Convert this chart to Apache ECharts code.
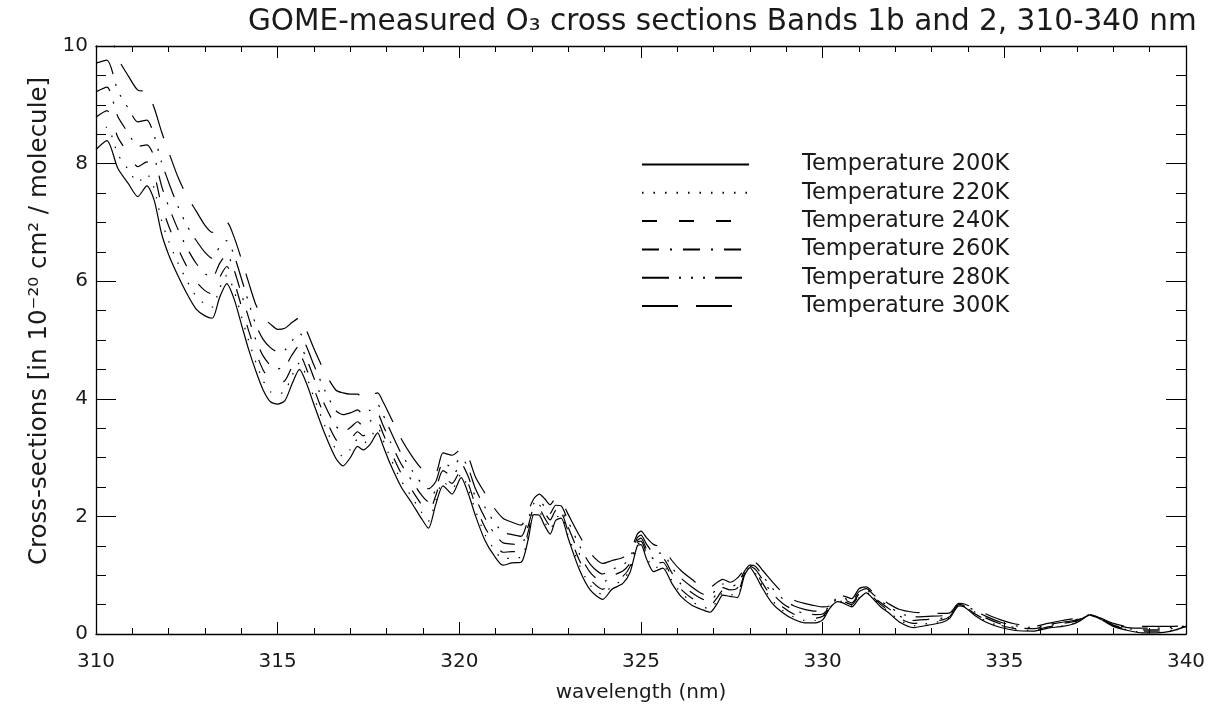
<!DOCTYPE html>
<html><head><meta charset="utf-8">
<script src="https://cdn.jsdelivr.net/npm/echarts@6/dist/echarts.min.js"></script>
<style>html,body{margin:0;padding:0;background:#fff}#c{width:1212px;height:710px}</style>
</head><body><div id="c"></div>
<script>
// wavelength grid (nm)
const wavelength = [
310.0, 310.3, 310.6, 310.9, 311.15, 311.4, 311.6, 311.8, 312.0, 312.25,
312.5, 312.75, 313.0, 313.2, 313.4, 313.6, 313.8, 314.0, 314.2, 314.4,
314.6, 314.8, 315.0, 315.2, 315.4, 315.6, 315.8, 316.0, 316.3, 316.6,
316.8, 317.0, 317.2, 317.35, 317.55, 317.75, 317.9, 318.1, 318.4, 318.7,
318.95, 319.15, 319.35, 319.55, 319.8, 320.05, 320.25, 320.45, 320.7, 320.95,
321.2, 321.45, 321.7, 321.9, 322.05, 322.2, 322.35, 322.5, 322.65, 322.8,
323.0, 323.3, 323.6, 323.95, 324.2, 324.5, 324.7, 324.9, 325.0, 325.15,
325.35, 325.6, 325.85, 326.1, 326.4, 326.7, 326.9, 327.1, 327.25, 327.45,
327.65, 327.85, 328.0, 328.15, 328.35, 328.6, 328.9, 329.2, 329.5, 329.8,
330.0, 330.2, 330.4, 330.55, 330.8, 331.0, 331.2, 331.4, 331.6, 331.8,
332.1, 332.5, 332.9, 333.3, 333.5, 333.75, 333.9, 334.2, 334.5, 334.9,
335.3, 335.8, 336.2, 336.6, 336.9, 337.1, 337.35, 337.65, 338.0, 338.4,
338.8, 339.2, 339.6, 340.0];

const t200 = [
8.24, 8.39, 7.92, 7.65, 7.44, 7.62, 7.38, 6.82, 6.45, 6.10,
5.79, 5.53, 5.41, 5.37, 5.72, 5.96, 5.70, 5.27, 4.84, 4.47,
4.15, 3.95, 3.91, 3.97, 4.26, 4.50, 4.25, 3.90, 3.40, 2.99,
2.86, 3.00, 3.19, 3.13, 3.23, 3.42, 3.20, 2.89, 2.50, 2.22,
1.97, 1.80, 2.20, 2.52, 2.38, 2.66, 2.38, 2.00, 1.60, 1.34,
1.17, 1.21, 1.22, 1.62, 2.03, 2.02, 1.84, 1.70, 1.93, 1.97,
1.62, 1.10, 0.75, 0.59, 0.76, 0.86, 1.05, 1.50, 1.52, 1.28,
1.06, 1.12, 0.86, 0.64, 0.49, 0.41, 0.37, 0.52, 0.66, 0.64,
0.62, 1.00, 1.13, 1.00, 0.77, 0.53, 0.36, 0.25, 0.19, 0.19,
0.24, 0.44, 0.55, 0.53, 0.46, 0.60, 0.70, 0.59, 0.46, 0.37,
0.21, 0.11, 0.15, 0.20, 0.27, 0.48, 0.46, 0.31, 0.20, 0.11,
0.06, 0.05, 0.10, 0.13, 0.17, 0.23, 0.32, 0.25, 0.13, 0.06,
0.02, 0.02, 0.05, 0.13];

const t220 = [
8.50, 8.62, 8.16, 7.89, 7.68, 7.82, 7.58, 7.04, 6.68, 6.32,
6.01, 5.75, 5.61, 5.56, 5.88, 6.10, 5.84, 5.41, 4.99, 4.62,
4.31, 4.12, 4.08, 4.13, 4.40, 4.61, 4.37, 4.02, 3.54, 3.14,
3.02, 3.14, 3.31, 3.24, 3.34, 3.51, 3.30, 3.00, 2.61, 2.32,
2.08, 1.92, 2.27, 2.59, 2.47, 2.72, 2.46, 2.09, 1.70, 1.45,
1.27, 1.30, 1.30, 1.68, 2.07, 2.07, 1.90, 1.77, 1.98, 2.01,
1.67, 1.18, 0.83, 0.67, 0.82, 0.92, 1.10, 1.53, 1.55, 1.33,
1.12, 1.17, 0.91, 0.70, 0.55, 0.46, 0.43, 0.57, 0.70, 0.67,
0.66, 1.01, 1.14, 1.03, 0.81, 0.58, 0.40, 0.29, 0.23, 0.23,
0.27, 0.45, 0.56, 0.55, 0.48, 0.62, 0.71, 0.60, 0.48, 0.39,
0.24, 0.14, 0.18, 0.22, 0.28, 0.49, 0.47, 0.33, 0.22, 0.13,
0.07, 0.06, 0.11, 0.14, 0.18, 0.24, 0.32, 0.25, 0.14, 0.07,
0.03, 0.03, 0.06, 0.13];

const t240 = [
8.79, 8.90, 8.45, 8.16, 7.95, 8.03, 7.82, 7.30, 6.94, 6.57,
6.25, 6.00, 5.84, 5.78, 6.06, 6.25, 5.99, 5.58, 5.16, 4.79,
4.49, 4.32, 4.27, 4.31, 4.55, 4.75, 4.50, 4.17, 3.69, 3.31,
3.21, 3.30, 3.44, 3.37, 3.46, 3.61, 3.41, 3.12, 2.73, 2.44,
2.21, 2.07, 2.35, 2.68, 2.56, 2.79, 2.55, 2.18, 1.82, 1.57,
1.39, 1.40, 1.40, 1.75, 2.11, 2.12, 1.97, 1.84, 2.03, 2.05,
1.73, 1.26, 0.93, 0.76, 0.90, 0.98, 1.15, 1.56, 1.58, 1.38,
1.19, 1.22, 0.97, 0.76, 0.61, 0.52, 0.49, 0.62, 0.74, 0.71,
0.71, 1.03, 1.14, 1.06, 0.86, 0.63, 0.46, 0.34, 0.28, 0.27,
0.30, 0.45, 0.57, 0.56, 0.50, 0.65, 0.73, 0.62, 0.50, 0.41,
0.27, 0.18, 0.21, 0.24, 0.30, 0.49, 0.47, 0.34, 0.24, 0.15,
0.09, 0.07, 0.12, 0.16, 0.20, 0.25, 0.32, 0.26, 0.14, 0.08,
0.05, 0.05, 0.07, 0.13];

const t260 = [
9.22, 9.30, 8.80, 8.51, 8.29, 8.32, 8.12, 7.63, 7.27, 6.89,
6.57, 6.31, 6.13, 6.06, 6.30, 6.45, 6.19, 5.79, 5.38, 5.00,
4.73, 4.57, 4.51, 4.55, 4.75, 4.91, 4.67, 4.35, 3.89, 3.54,
3.44, 3.51, 3.61, 3.54, 3.62, 3.74, 3.55, 3.27, 2.89, 2.60,
2.37, 2.25, 2.46, 2.78, 2.69, 2.89, 2.67, 2.31, 1.98, 1.72,
1.55, 1.53, 1.52, 1.85, 2.16, 2.19, 2.06, 1.94, 2.10, 2.11,
1.81, 1.37, 1.05, 0.88, 0.99, 1.07, 1.21, 1.59, 1.63, 1.45,
1.28, 1.28, 1.04, 0.85, 0.70, 0.59, 0.57, 0.69, 0.79, 0.75,
0.78, 1.05, 1.15, 1.10, 0.92, 0.70, 0.52, 0.41, 0.35, 0.33,
0.34, 0.46, 0.59, 0.59, 0.53, 0.68, 0.75, 0.64, 0.53, 0.44,
0.31, 0.23, 0.25, 0.27, 0.31, 0.50, 0.48, 0.37, 0.27, 0.17,
0.11, 0.09, 0.14, 0.18, 0.21, 0.26, 0.32, 0.26, 0.15, 0.09,
0.07, 0.07, 0.09, 0.13];

const t280 = [
9.71, 9.76, 9.24, 8.93, 8.71, 8.74, 8.48, 8.03, 7.68, 7.28,
6.95, 6.70, 6.49, 6.39, 6.58, 6.69, 6.44, 6.05, 5.64, 5.26,
5.01, 4.87, 4.80, 4.83, 4.99, 5.12, 4.88, 4.57, 4.14, 3.80,
3.73, 3.76, 3.81, 3.74, 3.81, 3.90, 3.73, 3.46, 3.07, 2.78,
2.57, 2.47, 2.59, 2.91, 2.84, 3.00, 2.81, 2.46, 2.16, 1.91,
1.73, 1.69, 1.66, 1.96, 2.22, 2.27, 2.16, 2.05, 2.19, 2.18,
1.91, 1.51, 1.19, 1.02, 1.10, 1.17, 1.30, 1.64, 1.68, 1.53,
1.38, 1.37, 1.13, 0.95, 0.80, 0.68, 0.67, 0.77, 0.85, 0.81,
0.85, 1.07, 1.17, 1.15, 0.99, 0.79, 0.60, 0.48, 0.42, 0.39,
0.39, 0.47, 0.61, 0.61, 0.56, 0.72, 0.77, 0.67, 0.56, 0.48,
0.36, 0.29, 0.30, 0.31, 0.33, 0.51, 0.50, 0.39, 0.30, 0.20,
0.14, 0.11, 0.16, 0.20, 0.23, 0.27, 0.33, 0.26, 0.17, 0.11,
0.10, 0.10, 0.11, 0.14];

const t300 = [
10.25, 10.35, 9.80, 9.48, 9.25, 9.22, 8.95, 8.55, 8.20, 7.78,
7.45, 7.20, 6.95, 6.83, 6.95, 7.00, 6.75, 6.38, 5.98, 5.60,
5.38, 5.27, 5.18, 5.20, 5.30, 5.38, 5.15, 4.85, 4.45, 4.15,
4.10, 4.08, 4.08, 4.00, 4.06, 4.10, 3.95, 3.70, 3.32, 3.02,
2.82, 2.75, 2.75, 3.08, 3.04, 3.14, 3.00, 2.66, 2.40, 2.15,
1.97, 1.90, 1.85, 2.10, 2.30, 2.38, 2.30, 2.20, 2.30, 2.27,
2.03, 1.68, 1.38, 1.20, 1.25, 1.30, 1.40, 1.70, 1.75, 1.64,
1.52, 1.47, 1.25, 1.08, 0.93, 0.80, 0.80, 0.88, 0.93, 0.88,
0.95, 1.10, 1.18, 1.21, 1.08, 0.90, 0.70, 0.58, 0.52, 0.48,
0.46, 0.48, 0.63, 0.65, 0.60, 0.77, 0.80, 0.70, 0.60, 0.52,
0.42, 0.37, 0.36, 0.35, 0.36, 0.52, 0.51, 0.43, 0.34, 0.24,
0.17, 0.13, 0.18, 0.23, 0.26, 0.29, 0.33, 0.27, 0.18, 0.13,
0.13, 0.13, 0.13, 0.14];

const seriesNames = ['Temperature 200K','Temperature 220K','Temperature 240K','Temperature 260K','Temperature 280K','Temperature 300K'];
const seriesValues = [t200, t220, t240, t260, t280, t300];

const titleText = 'GOME-measured O\u2083 cross sections Bands 1b and 2, 310-340 nm';
const xName = 'wavelength (nm)';
const yName = 'Cross-sections [in 10\u207B\u00B2\u2070 cm\u00B2 / molecule]';

// styles
const dashTypes = ['solid', [1.5, 10], [15, 22], [17, 11, 2, 11], [27, 10, 2, 10, 2, 10, 2, 10], [36, 18]];
const FONT = 'DejaVu Sans';
const INK = '#1a1a1a';

const chart = echarts.init(document.getElementById('c'), null, {renderer: 'canvas'});

function xAx(pos, withLabels) {
  return {
    type: 'value', position: pos, min: 310, max: 340, interval: 5,
    name: withLabels ? xName : '', nameLocation: 'middle', nameGap: 49,
    nameTextStyle: {fontFamily: FONT, fontSize: 20, color: INK},
    axisLine: {onZero: false, lineStyle: {color: '#000', width: 1.3}},
    axisTick: {inside: true, length: 12, lineStyle: {color: '#000', width: 1}},
    minorTick: {show: true, splitNumber: 5, length: 6, lineStyle: {color: '#000', width: 1}},
    axisLabel: {show: withLabels, fontFamily: FONT, fontSize: 20, color: INK, margin: 18},
    splitLine: {show: false}
  };
}
function yAx(pos, withLabels) {
  return {
    type: 'value', position: pos, min: 0, max: 10, interval: 2,
    name: withLabels ? yName : '', nameLocation: 'middle', nameGap: 44, nameRotate: 90,
    nameTextStyle: {fontFamily: FONT, fontSize: 24.5, color: INK, padding: [0, 0, 0, 38]},
    axisLine: {onZero: false, lineStyle: {color: '#000', width: 1.3}},
    axisTick: {inside: true, length: 20, lineStyle: {color: '#000', width: 1}},
    minorTick: {show: true, splitNumber: 4, length: 10, lineStyle: {color: '#000', width: 1}},
    axisLabel: {show: withLabels, fontFamily: FONT, fontSize: 20, color: INK, margin: 8},
    splitLine: {show: false}
  };
}

const option = {
  animation: false,
  backgroundColor: '#fff',
  color: ['#000', '#000', '#000', '#000', '#000', '#000'],
  title: {
    text: titleText, left: 243, top: 2,
    textStyle: {fontFamily: FONT, fontSize: 29.5, fontWeight: 'normal', color: INK}
  },
  legend: {
    orient: 'vertical', left: 641, top: 153, padding: 0,
    itemWidth: 107, itemHeight: 20, itemGap: 5.3,
    selectedMode: false,
    data: seriesNames,
    itemStyle: {color: 'transparent', borderWidth: 0, opacity: 0},
    textStyle: {fontFamily: FONT, fontSize: 22.5, color: INK, lineHeight: 20, padding: [0, 0, 0, 48]}
  },
  grid: {left: 96, right: 26, top: 46, bottom: 76},
  xAxis: [xAx('bottom', true), xAx('top', false)],
  yAxis: [yAx('left', true), yAx('right', false)],
  series: seriesValues.map((vals, k) => ({
    name: seriesNames[k],
    type: 'line',
    xAxisIndex: 0, yAxisIndex: 0,
    data: wavelength.map((w, i) => [w, vals[i]]),
    symbol: 'none', showSymbol: false,
    smooth: 0.25,
    clip: true,
    itemStyle: {color: '#000'},
    lineStyle: {color: '#000', width: 1.2, type: dashTypes[k]}
  }))
};
chart.setOption(option);
</script>
</body></html>
